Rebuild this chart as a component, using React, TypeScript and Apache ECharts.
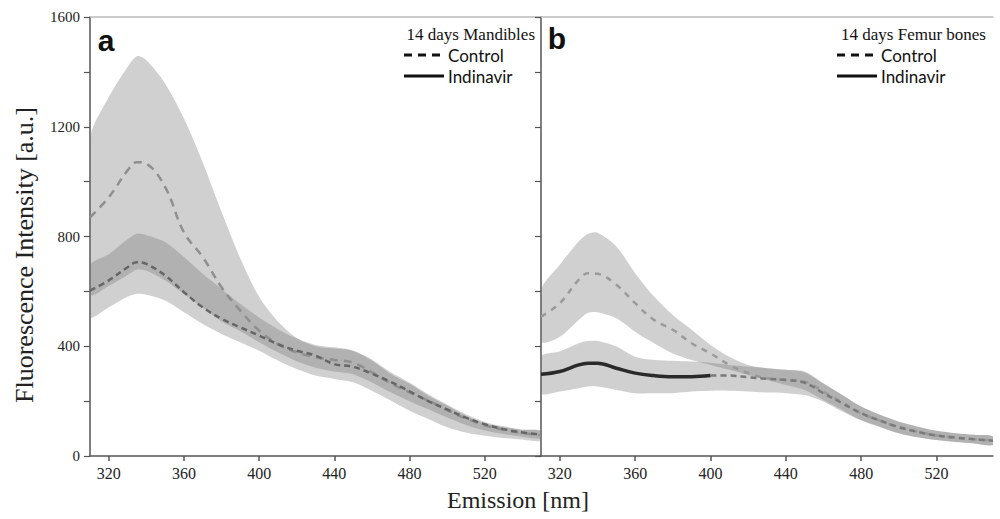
import React, { useEffect, useRef } from "react";
import * as echarts from "echarts";

// Emission wavelengths (nm)
const WL = [310, 320, 330, 335, 340, 350, 360, 370, 380, 390, 400, 410, 420, 430, 440, 450, 460, 470, 480, 490, 500, 510, 520, 530, 540, 550];
const X_TICKS = [320, 360, 400, 440, 480, 520];
const Y_LABELS = [0, 400, 800, 1200, 1600];

// Panel a: 14 days Mandibles
const ctrlMeanA = [870, 943, 1041, 1071, 1065, 980, 815, 725, 615, 530, 457, 408, 378, 360, 350, 340, 305, 265, 232, 202, 167, 137, 112, 96, 84, 75];
const ctrlUpperA = [1156, 1308, 1418, 1457, 1442, 1357, 1230, 1070, 890, 720, 580, 490, 430, 400, 392, 384, 352, 305, 268, 225, 188, 152, 124, 108, 97, 92];
const ctrlLowerA = [590, 620, 660, 680, 675, 640, 590, 540, 490, 455, 415, 378, 345, 322, 308, 298, 268, 232, 200, 170, 140, 113, 93, 80, 70, 64];
const indMeanA = [603, 640, 688, 706, 700, 658, 597, 542, 500, 469, 439, 408, 384, 366, 335, 325, 300, 270, 236, 200, 170, 140, 116, 98, 86, 78];
const indUpperA = [694, 735, 790, 810, 805, 780, 725, 664, 609, 554, 505, 462, 428, 405, 396, 384, 348, 299, 263, 220, 184, 147, 119, 105, 95, 90];
const indLowerA = [506, 542, 580, 591, 588, 567, 524, 481, 445, 415, 384, 348, 317, 293, 281, 269, 238, 202, 165, 135, 105, 86, 74, 66, 60, 56];

// Panel b: 14 days Femur bones
const ctrlMeanB = [508, 557, 642, 666, 664, 624, 557, 496, 460, 411, 374, 332, 302, 283, 277, 271, 234, 195, 156, 129, 105, 88, 75, 67, 61, 56];
const ctrlUpperB = [605, 697, 782, 810, 814, 764, 666, 581, 514, 460, 405, 362, 332, 320, 314, 308, 265, 222, 180, 150, 125, 107, 92, 83, 77, 71];
const ctrlLowerB = [417, 435, 496, 522, 524, 502, 453, 411, 374, 350, 332, 314, 295, 277, 259, 241, 204, 168, 131, 107, 83, 68, 58, 51, 46, 40];
const indMeanB = [298, 308, 332, 338, 338, 320, 302, 293, 289, 289, 293, 293, 287, 281, 277, 267, 229, 192, 156, 129, 105, 88, 75, 67, 61, 56];
const indUpperB = [362, 381, 411, 419, 419, 399, 362, 350, 347, 344, 340, 332, 326, 320, 314, 304, 263, 222, 180, 150, 125, 107, 92, 83, 77, 71];
const indLowerB = [229, 235, 247, 253, 253, 241, 229, 229, 229, 235, 238, 238, 235, 231, 229, 222, 198, 162, 129, 105, 83, 68, 58, 51, 46, 40];

const SOLID_END_B = 400;

const SERIF = "Liberation Serif";
const BAND_FILL = "rgba(120,120,120,0.35)";

const pts = (arr: number[]) => WL.map((x, i) => [x, arr[i]]);

function band(id: string, axis: number, lower: number[], upper: number[]) {
  return {
    type: "custom",
    name: id,
    xAxisIndex: axis,
    yAxisIndex: axis,
    clip: true,
    silent: true,
    z: 1,
    data: WL.map((x, i) => [x, lower[i], upper[i]]),
    encode: { x: 0, y: [1, 2] },
    renderItem: (params: any, api: any) => {
      if (params.dataIndex !== 0) return null;
      const top = WL.map((x, i) => api.coord([x, upper[i]]));
      const bottom = WL.map((x, i) => api.coord([x, lower[i]])).reverse();
      return {
        type: "polygon",
        shape: { points: top.concat(bottom), smooth: 0.3 },
        style: { fill: BAND_FILL, stroke: "none" },
      };
    },
  };
}

function meanLine(name: string, axis: number, data: number[][], color: string, width: number, dash: any) {
  return {
    type: "line",
    name,
    xAxisIndex: axis,
    yAxisIndex: axis,
    data,
    symbol: "none",
    smooth: 0.4,
    lineStyle: { color, width, type: dash },
    z: 3,
  };
}

function xAxisBottom(grid: number) {
  return {
    type: "value",
    gridIndex: grid,
    min: 310,
    max: 550,
    position: "bottom",
    axisLine: { show: true, onZero: false, lineStyle: { color: "#555", width: 1.5 } },
    axisTick: { show: true, length: 5, customValues: X_TICKS, lineStyle: { color: "#555", width: 1.5 } },
    axisLabel: { customValues: X_TICKS, margin: 9, fontFamily: SERIF, fontSize: 16, color: "#222" },
    splitLine: { show: false },
  };
}

function xAxisTop(grid: number) {
  return {
    type: "value",
    gridIndex: grid,
    min: 310,
    max: 550,
    position: "top",
    axisLine: { show: true, onZero: false, lineStyle: { color: "#bbb", width: 1.5 } },
    axisTick: { show: false },
    axisLabel: { show: false },
    splitLine: { show: false },
  };
}

function yAxis(grid: number, labels: boolean) {
  return {
    type: "value",
    gridIndex: grid,
    min: 0,
    max: 1600,
    interval: 200,
    axisLine: { show: true, onZero: false, lineStyle: { color: "#555", width: 1.5 } },
    axisTick: { show: true, length: 6, lineStyle: { color: "#555", width: 1.2 } },
    axisLabel: {
      show: labels,
      margin: 10,
      fontFamily: SERIF,
      fontSize: 15,
      color: "#222",
      formatter: (v: number) => (Y_LABELS.includes(v) ? String(v) : ""),
    },
    splitLine: { show: false },
  };
}

function legendBlock(xLine: number, title: string, titleRight: number) {
  const txt = { fontFamily: "Lato", fontSize: 17, fill: "#111" };
  return [
    {
      type: "text",
      x: titleRight,
      y: 34,
      style: { text: title, fontFamily: SERIF, fontSize: 17, fill: "#111", align: "right", verticalAlign: "middle" },
    },
    {
      type: "line",
      shape: { x1: xLine, y1: 55, x2: xLine + 40, y2: 55 },
      style: { stroke: "#111", lineWidth: 3, lineDash: [8, 6] },
    },
    {
      type: "text",
      x: xLine + 44,
      y: 55,
      style: { text: "Control", ...txt, align: "left", verticalAlign: "middle" },
    },
    {
      type: "line",
      shape: { x1: xLine, y1: 76, x2: xLine + 40, y2: 76 },
      style: { stroke: "#111", lineWidth: 3 },
    },
    {
      type: "text",
      x: xLine + 44,
      y: 76,
      style: { text: "Indinavir", ...txt, align: "left", verticalAlign: "middle" },
    },
  ];
}

export default function App() {
  const ref = useRef<HTMLDivElement>(null);

  useEffect(() => {
    if (!ref.current) return;
    const chart = echarts.init(ref.current, undefined, { renderer: "svg" });

    const indBSolid = pts(indMeanB).filter((p) => p[0] <= SOLID_END_B);
    const indBRest = pts(indMeanB).filter((p) => p[0] >= SOLID_END_B);

    const option: any = {
      animation: false,
      backgroundColor: "#fff",
      grid: [
        { left: 90, top: 17, width: 451, height: 439 },
        { left: 541, top: 17, width: 452, height: 439 },
      ],
      xAxis: [xAxisBottom(0), xAxisBottom(1), xAxisTop(0), xAxisTop(1)],
      yAxis: [yAxis(0, true), yAxis(1, false)],
      series: [
        band("ctrlA", 0, ctrlLowerA, ctrlUpperA),
        band("indA", 0, indLowerA, indUpperA),
        meanLine("Control a", 0, pts(ctrlMeanA), "#8f8f8f", 2.5, [8, 6]),
        meanLine("Indinavir a", 0, pts(indMeanA), "#666", 2.5, [6, 4]),
        band("ctrlB", 1, ctrlLowerB, ctrlUpperB),
        band("indB", 1, indLowerB, indUpperB),
        meanLine("Control b", 1, pts(ctrlMeanB), "#9a9a9a", 2.5, [6, 6]),
        meanLine("Indinavir b", 1, indBSolid, "#2a2a2a", 3.5, "solid"),
        meanLine("Indinavir b (cont.)", 1, indBRest, "#7a7a7a", 2.5, [6, 4]),
      ],
      graphic: [
        {
          type: "text",
          x: 106,
          y: 40,
          style: { text: "a", fontFamily: "Liberation Sans", fontWeight: "bold", fontSize: 30, fill: "#111", align: "center", verticalAlign: "middle" },
        },
        {
          type: "text",
          x: 557,
          y: 38,
          style: { text: "b", fontFamily: "Liberation Sans", fontWeight: "bold", fontSize: 30, fill: "#111", align: "center", verticalAlign: "middle" },
        },
        ...legendBlock(404, "14 days Mandibles", 535),
        ...legendBlock(837, "14 days Femur bones", 986),
        {
          type: "text",
          x: 24,
          y: 255,
          rotation: Math.PI / 2,
          style: { text: "Fluorescence Intensity [a.u.]", fontFamily: SERIF, fontSize: 26, fill: "#222", align: "center", verticalAlign: "middle" },
        },
        {
          type: "text",
          x: 518,
          y: 500,
          style: { text: "Emission [nm]", fontFamily: SERIF, fontSize: 24, fill: "#222", align: "center", verticalAlign: "middle" },
        },
      ],
    };

    chart.setOption(option);
    return () => chart.dispose();
  }, []);

  return (
    <div
      ref={ref}
      style={{ position: "fixed", left: 0, top: 0, width: 1000, height: 519, background: "#fff" }}
    />
  );
}
